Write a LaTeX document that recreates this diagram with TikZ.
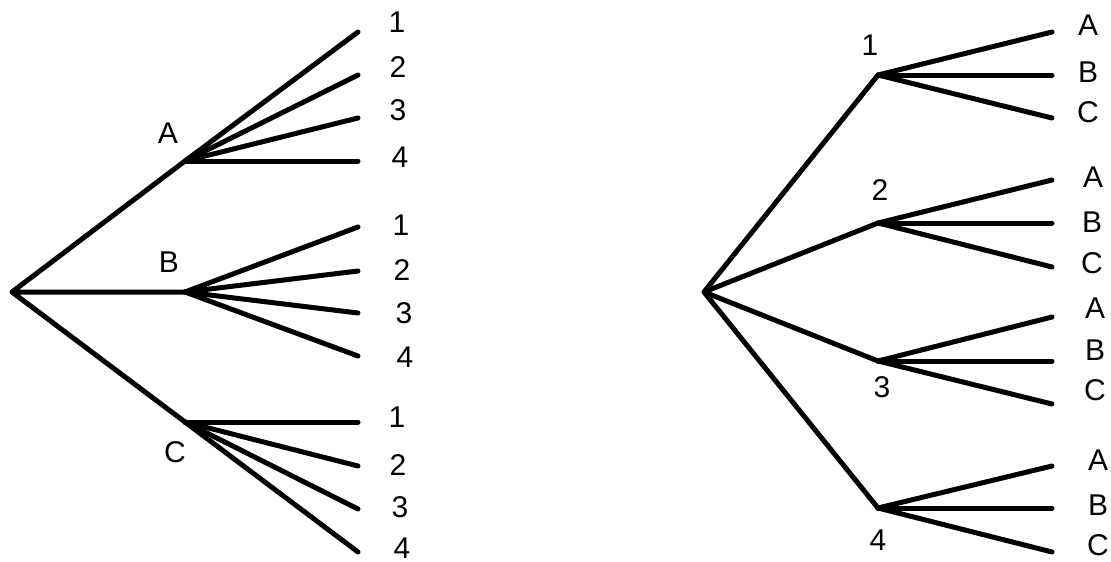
\documentclass[tikz,border=0pt]{standalone}
\usepackage{fontspec}
\setmainfont{Liberation Sans}
\begin{document}
\begin{tikzpicture}[x=1pt,y=-1pt,
  branch/.style={line width=5pt,line cap=round,line join=round},
  lbl/.style={inner sep=0pt,font=\fontsize{30}{32}\selectfont}]
\useasboundingbox (0,0) rectangle (1111,562);
% ---------- left tree ----------
\coordinate (L) at (12,292);
\coordinate (A) at (185,161);
\coordinate (B) at (185,292);
\coordinate (C) at (185,422);
\foreach \n/\y in {1/32,2/75,3/118,4/161} \coordinate (A\n) at (358,\y);
\foreach \n/\y in {1/227,2/271,3/313,4/356} \coordinate (B\n) at (358,\y);
\foreach \n/\y in {1/422,2/466,3/509,4/552} \coordinate (C\n) at (358,\y);
\draw[branch] (L) -- (A) (L) -- (B) (L) -- (C);
\foreach \p in {A,B,C}{
  \foreach \n in {1,2,3,4} \draw[branch] (\p) -- (\p\n);
}
\node[lbl] (tA) at (168,133) {A};
\node[lbl] (tB) at (169,262) {B};
\node[lbl] (tC) at (175,452) {C};
\node[lbl] (a1) at (397,22) {1};
\node[lbl] (a2) at (398,67) {2};
\node[lbl] (a3) at (398,110) {3};
\node[lbl] (a4) at (400,157) {4};
\node[lbl] (b1) at (401,225) {1};
\node[lbl] (b2) at (402,270) {2};
\node[lbl] (b3) at (404,313) {3};
\node[lbl] (b4) at (405,357) {4};
\node[lbl] (c1) at (397,417) {1};
\node[lbl] (c2) at (398,465) {2};
\node[lbl] (c3) at (400,507) {3};
\node[lbl] (c4) at (402,548) {4};
% ---------- right tree ----------
\coordinate (R) at (704,292);
\coordinate (N1) at (878,75);
\coordinate (N2) at (878,223);
\coordinate (N3) at (878,361);
\coordinate (N4) at (878,508);
\foreach \n/\y in {A/32,B/75,C/118} \coordinate (N1\n) at (1052,\y);
\foreach \n/\y in {A/180,B/223,C/267} \coordinate (N2\n) at (1052,\y);
\foreach \n/\y in {A/317,B/361,C/404} \coordinate (N3\n) at (1052,\y);
\foreach \n/\y in {A/466,B/508,C/552} \coordinate (N4\n) at (1052,\y);
\draw[branch] (R) -- (N1) (R) -- (N2) (R) -- (N3) (R) -- (N4);
\foreach \p in {1,2,3,4}{
  \foreach \n in {A,B,C} \draw[branch] (N\p) -- (N\p\n);
}
\node[lbl] (t1) at (870,45) {1};
\node[lbl] (t2) at (880,190) {2};
\node[lbl] (t3) at (882,387) {3};
\node[lbl] (t4) at (878,540) {4};
\node[lbl] (r1A) at (1088,25) {A};
\node[lbl] (r1B) at (1088,72) {B};
\node[lbl] (r1C) at (1088,112) {C};
\node[lbl] (r2A) at (1093,177) {A};
\node[lbl] (r2B) at (1092,222) {B};
\node[lbl] (r2C) at (1092,263) {C};
\node[lbl] (r3A) at (1095,308) {A};
\node[lbl] (r3B) at (1095,350) {B};
\node[lbl] (r3C) at (1095,390) {C};
\node[lbl] (r4A) at (1098,460) {A};
\node[lbl] (r4B) at (1098,505) {B};
\node[lbl] (r4C) at (1098,545) {C};
\end{tikzpicture}
\end{document}
